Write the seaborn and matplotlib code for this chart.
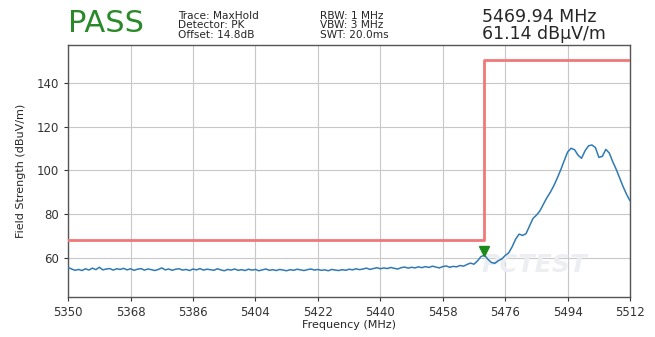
import numpy as np
import pandas as pd
import seaborn as sns
import matplotlib.pyplot as plt
from matplotlib import transforms

# ______________________________________________________________________________

# Sweep data (1 MHz steps)
freq_start, freq_stop = 5350, 5512
level = [
    55.5, 54.8, 54.2, 54.6, 54.1, 54.9, 54.3, 55.2, 54.5, 55.6, 54.4, 54.8, 55.0, 54.3, 54.9, 54.6, 55.1,
    54.4, 54.9, 54.2, 54.7, 55.0, 54.3, 54.8, 54.5, 54.1, 54.6, 55.3, 54.4, 54.8, 54.2, 54.7, 54.9, 54.3,
    54.6, 54.1, 54.8, 54.4, 55.0, 54.3, 54.7, 54.5, 54.2, 54.9, 54.4, 54.0, 54.6, 54.3, 54.8, 54.2, 54.5,
    54.1, 54.7, 54.3, 54.6, 54.0, 54.4, 54.8, 54.2, 54.5, 54.1, 54.6, 54.3, 54.0, 54.5, 54.2, 54.7, 54.4,
    54.1, 54.5, 54.8, 54.3, 54.6, 54.2, 54.4, 54.0, 54.6, 54.3, 54.1, 54.5, 54.2, 54.7, 54.4, 54.9, 54.5,
    54.8, 55.2, 54.6, 55.0, 55.4, 54.9, 55.3, 55.0, 55.5, 55.1, 54.8, 55.4, 55.7, 55.2, 55.6, 55.3, 55.8,
    55.4, 55.9, 55.5, 56.1, 55.7, 55.3, 55.9, 56.2, 55.6, 56.0, 55.8, 56.4, 56.1, 56.9, 57.5, 57.0, 58.5,
    60.5, 61.1, 59.3, 57.8, 57.4, 58.6, 59.4, 61.0, 62.2, 65.0, 68.5, 70.8, 70.2, 71.0, 74.5, 78.0, 79.5,
    81.5, 84.5, 87.5, 90.0, 93.0, 96.5, 100.3, 104.5, 108.5, 110.2, 109.5, 107.0, 105.6, 109.0, 111.3, 111.7, 110.5,
    106.0, 106.5, 109.7, 108.0, 104.0, 100.5, 96.5, 92.5, 89.0, 86.0,
]
freq = np.arange(freq_start, freq_stop + 1)

# Limit line (step at band edge)
limit_freq = [5350, 5470, 5512]
limit_level = [68.2, 150.7, 150.7]

# Marker
mkr_freq = 5469.94
mkr_level = 61.14

xticks = np.arange(5350, 5513, 18)
yticks = [60, 80, 100, 120, 140]

df = pd.DataFrame({'freq': freq, 'level': level})
df_lim = pd.DataFrame({'freq': limit_freq, 'level': limit_level})

# ______________________________________________________________________________

sns.set_style('whitegrid')
plt.rcParams['font.family'] = ['DejaVu Sans']

fig = plt.figure(figsize=(6.55, 3.37), dpi=100)
ax = fig.add_axes([0.104, 0.119, 0.858, 0.747])

sns.lineplot(data=df_lim, x='freq', y='level', ax=ax, color='#f07878',
             linewidth=2, drawstyle='steps-post', zorder=3)
sns.lineplot(data=df, x='freq', y='level', ax=ax, color='#2f7ab5',
             linewidth=1.1, zorder=4)

# marker sits just above the trace point
off = transforms.offset_copy(ax.transData, fig=fig, x=0, y=3, units='points')
ax.plot([mkr_freq], [mkr_level], marker='v', color='#1a8a1a',
        markersize=7, transform=off, zorder=5)

# watermark
ax.text(0.83, 0.125, 'PCTEST', transform=ax.transAxes, fontsize=18,
        style='italic', fontweight='bold', color='#eceef2', ha='center',
        va='center', zorder=1)

ax.set_xlim(5350, 5512)
ax.set_ylim(42, 157.5)
ax.set_xticks(xticks)
ax.set_yticks(yticks)
ax.tick_params(labelsize=8.5, colors='#333333', length=3, direction='out',
               bottom=True, left=True)
ax.grid(color='#c8c8c8', linewidth=0.8)
for spine in ax.spines.values():
    spine.set_color('#555555')
    spine.set_linewidth(1.0)
ax.set_xlabel('Frequency (MHz)', fontsize=8, labelpad=1)
ax.set_ylabel('Field Strength (dBuV/m)', fontsize=8, labelpad=8)

# header block
fig.text(0.104, 0.93, 'PASS', color='#2a8a2a', fontsize=22, va='center')
fig.text(0.272, 0.925, 'Trace: MaxHold\nDetector: PK\nOffset: 14.8dB',
         fontsize=7.6, va='center', linespacing=0.95)
fig.text(0.488, 0.925, 'RBW: 1 MHz\nVBW: 3 MHz\nSWT: 20.0ms',
         fontsize=7.6, va='center', linespacing=0.95)
fig.text(0.736, 0.925, '5469.94 MHz\n61.14 dB\u03bcV/m',
         fontsize=12.5, va='center', linespacing=0.95)

fig.savefig('out.png', dpi=100)
